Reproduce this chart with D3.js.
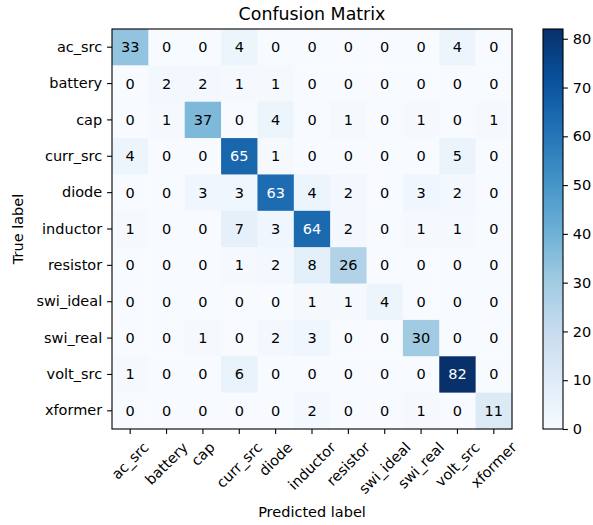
<!DOCTYPE html>
<html><head><meta charset="utf-8">
<script src="https://cdn.jsdelivr.net/npm/d3@7"></script>
<style>body{margin:0;background:#fff}text{font-family:"DejaVu Sans",sans-serif}</style>
</head><body><svg id="c" width="593" height="525"></svg>
<script>
const labels = ["ac_src","battery","cap","curr_src","diode","inductor","resistor","swi_ideal","swi_real","volt_src","xformer"];
const matrix = [
[33,0,0,4,0,0,0,0,0,4,0],
[0,2,2,1,1,0,0,0,0,0,0],
[0,1,37,0,4,0,1,0,1,0,1],
[4,0,0,65,1,0,0,0,0,5,0],
[0,0,3,3,63,4,2,0,3,2,0],
[1,0,0,7,3,64,2,0,1,1,0],
[0,0,0,1,2,8,26,0,0,0,0],
[0,0,0,0,0,1,1,4,0,0,0],
[0,0,1,0,2,3,0,0,30,0,0],
[1,0,0,6,0,0,0,0,0,82,0],
[0,0,0,0,0,2,0,0,1,0,11]
];
const cbTicks = [0,10,20,30,40,50,60,70,80];
const blues = ["#f7fbff","#deebf7","#c6dbef","#9ecae1","#6baed6","#4292c6","#2171b5","#08519c","#08306b"];

const FS = 14.5;
const svg = d3.select("#c");
const L=112, T=29, W=400, H=400;
const vmax = d3.max(matrix.flat()), vmin = 0;
const color = d3.scaleLinear().domain(blues.map((_,i)=>vmin+(vmax-vmin)*i/(blues.length-1))).range(blues).interpolate(d3.interpolateRgb);
const x = d3.scaleBand().domain(labels).range([L,L+W]);
const y = d3.scaleBand().domain(labels).range([T,T+H]);

const g = svg.append("g");
const cells = [];
matrix.forEach((row,i)=>row.forEach((v,j)=>cells.push({r:labels[i],c:labels[j],v})));
g.selectAll("rect.cell").data(cells).join("rect")
  .attr("x",d=>x(d.c)).attr("y",d=>y(d.r))
  .attr("width",x.bandwidth()+0.5).attr("height",y.bandwidth()+0.5)
  .attr("fill",d=>color(d.v));
g.selectAll("text.val").data(cells).join("text")
  .attr("x",d=>x(d.c)+x.bandwidth()/2).attr("y",d=>y(d.r)+y.bandwidth()/2)
  .attr("text-anchor","middle").attr("dominant-baseline","central")
  .attr("font-size",FS+"px")
  .attr("fill",d=>d.v>vmax/2?"#fff":"#000").text(d=>d.v);

svg.append("rect").attr("x",L).attr("y",T).attr("width",W).attr("height",H)
  .attr("fill","none").attr("stroke","#000").attr("stroke-width",1.1);

const TS = 4.9, PAD = 4.9;
const xa = svg.append("g").attr("transform",`translate(0,${T+H})`)
  .call(d3.axisBottom(x).tickSize(TS).tickSizeOuter(0));
xa.select(".domain").remove();
xa.selectAll("line").attr("stroke-width",1.1);
xa.selectAll("text").attr("font-size",FS+"px").attr("fill","#000")
  .attr("text-anchor","middle").attr("dominant-baseline","central").attr("dy",null).attr("y",0)
  .each(function(){
    const w = this.getComputedTextLength();
    const h = FS*1.17;
    const bh = (w+h)*Math.SQRT1_2;
    d3.select(this).attr("transform",`translate(0,${TS+PAD+bh/2}) rotate(-45)`);
  });
const ya = svg.append("g").attr("transform",`translate(${L},0)`)
  .call(d3.axisLeft(y).tickSize(TS).tickPadding(PAD).tickSizeOuter(0));
ya.select(".domain").remove();
ya.selectAll("line").attr("stroke-width",1.1);
ya.selectAll("text").attr("font-size",FS+"px").attr("fill","#000");

svg.append("text").attr("x",L+W/2).attr("y",20).attr("text-anchor","middle")
  .attr("font-size","17.4px").text("Confusion Matrix");
svg.append("text").attr("x",L+W/2).attr("y",517).attr("text-anchor","middle")
  .attr("font-size",FS+"px").text("Predicted label");
svg.append("text").attr("transform",`translate(23,${T+H/2}) rotate(-90)`).attr("text-anchor","middle")
  .attr("font-size",FS+"px").text("True label");

// colorbar
const cbX=543, cbW=20;
const cy = d3.scaleLinear().domain([vmin,vmax]).range([T+H,T]);
const defs = svg.append("defs");
const grad = defs.append("linearGradient").attr("id","gr").attr("x1",0).attr("y1",1).attr("x2",0).attr("y2",0);
blues.forEach((c,i)=>grad.append("stop").attr("offset",i/(blues.length-1)).attr("stop-color",c));
svg.append("rect").attr("x",cbX).attr("y",T).attr("width",cbW).attr("height",H).attr("fill","url(#gr)")
  .attr("stroke","#000").attr("stroke-width",1.1);
const ca = svg.append("g").attr("transform",`translate(${cbX+cbW},0)`)
  .call(d3.axisRight(cy).tickValues(cbTicks).tickSize(TS).tickPadding(PAD).tickSizeOuter(0));
ca.select(".domain").remove();
ca.selectAll("line").attr("stroke-width",1.1);
ca.selectAll("text").attr("font-size",FS+"px").attr("fill","#000");
</script></body></html>
